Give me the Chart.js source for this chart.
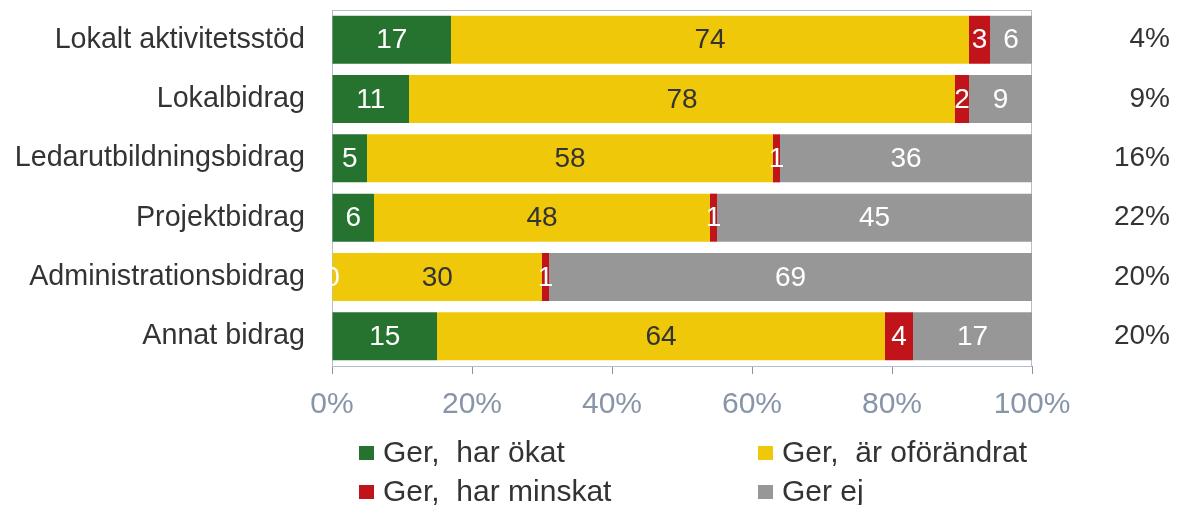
<!DOCTYPE html>
<html>
<head>
<meta charset="utf-8">
<script src="https://cdn.jsdelivr.net/npm/chart.js@4/dist/chart.umd.min.js"></script>
<style>
  html, body { margin: 0; padding: 0; background: #fff; }
  #wrap { width: 1201px; height: 505px; position: relative; }
</style>
</head>
<body>
<div id="wrap"><canvas id="chart" width="1201" height="505"></canvas></div>
<script>
const categories = ['Lokalt aktivitetsstöd', 'Lokalbidrag', 'Ledarutbildningsbidrag', 'Projektbidrag', 'Administrationsbidrag', 'Annat bidrag'];
const okat = [17, 11, 5, 6, 0, 15];
const oforandrat = [74, 78, 58, 48, 30, 64];
const minskat = [3, 2, 1, 1, 1, 4];
const gerEj = [6, 9, 36, 45, 69, 17];
const rightLabels = ['4%', '9%', '16%', '22%', '20%', '20%'];
const xTicks = [0, 20, 40, 60, 80, 100];

const FONT = "'Liberation Sans', Arial, sans-serif";
const AXIS = '#8795a8';

// numbers inside the bars
const barLabels = {
  id: 'barLabels',
  afterDatasetsDraw(chart) {
    const ctx = chart.ctx, a = chart.chartArea;
    ctx.save();
    ctx.beginPath();
    ctx.rect(a.left, a.top, a.right - a.left, a.bottom - a.top);
    ctx.clip();
    ctx.font = '28px ' + FONT;
    ctx.textAlign = 'center';
    ctx.textBaseline = 'middle';
    chart.data.datasets.forEach((ds, i) => {
      chart.getDatasetMeta(i).data.forEach((el, j) => {
        ctx.fillStyle = ds.labelColor;
        ctx.fillText(String(ds.data[j]), (el.x + el.base) / 2, el.y + 1);
      });
    });
    ctx.restore();
  }
};

// frame around the plot area + legend in two columns
const frameLegend = {
  id: 'frameLegend',
  beforeDatasetsDraw(chart) {
    const ctx = chart.ctx, a = chart.chartArea;
    ctx.save();
    ctx.strokeStyle = '#b4bfcd';
    ctx.lineWidth = 1;
    ctx.strokeRect(a.left + 0.5, a.top + 0.5, a.right - a.left - 1, a.bottom - a.top);
    ctx.restore();
  },
  afterDraw(chart) {
    const ctx = chart.ctx;
    const cols = [359, 758], rows = [453, 492];
    ctx.save();
    ctx.font = '30px ' + FONT;
    ctx.textBaseline = 'middle';
    chart.data.datasets.forEach((ds, i) => {
      const x = cols[i % 2], y = rows[Math.floor(i / 2)];
      ctx.fillStyle = ds.backgroundColor;
      ctx.fillRect(x, y - 7, 15, 14);
      ctx.fillStyle = '#333';
      ctx.fillText(ds.label, x + 24, y + 1);
    });
    ctx.restore();
  }
};

const noPad = s => { s.paddingTop = 0; s.paddingBottom = 0; };

new Chart(document.getElementById('chart'), {
  type: 'bar',
  data: {
    labels: categories,
    datasets: [
      { label: 'Ger,  har ökat', data: okat, backgroundColor: '#267330', labelColor: '#fff' },
      { label: 'Ger,  är oförändrat', data: oforandrat, backgroundColor: '#f0c80a', labelColor: '#333' },
      { label: 'Ger,  har minskat', data: minskat, backgroundColor: '#c0141a', labelColor: '#fff' },
      { label: 'Ger ej', data: gerEj, backgroundColor: '#979797', labelColor: '#fff' }
    ]
  },
  options: {
    indexAxis: 'y',
    responsive: false,
    animation: false,
    devicePixelRatio: 1,
    layout: { padding: { top: 10, bottom: 69, left: 0, right: 31 } },
    datasets: { bar: { barPercentage: 0.81, categoryPercentage: 1, borderWidth: 0 } },
    plugins: { legend: { display: false }, tooltip: { enabled: false } },
    scales: {
      x: {
        stacked: true, min: 0, max: 100,
        afterBuildTicks: s => { s.ticks = xTicks.map(v => ({ value: v })); },
        grid: { drawOnChartArea: false, drawTicks: true, tickLength: 8, color: AXIS },
        border: { color: AXIS, width: 1 },
        ticks: { padding: 13, color: AXIS, font: { family: FONT, size: 30 }, callback: v => v + '%' }
      },
      y: {
        stacked: true,
        afterFit: s => { s.width = 332; noPad(s); },
        grid: { display: false, drawTicks: false },
        border: { color: AXIS, width: 1 },
        ticks: { padding: 27, color: '#333', font: { family: FONT, size: 28.7 } }
      },
      y2: {
        type: 'category', position: 'right', labels: rightLabels, offset: true,
        afterFit: s => { s.width = 138; noPad(s); },
        grid: { display: false, drawTicks: false },
        border: { display: false },
        ticks: { padding: 10, crossAlign: 'far', color: '#333', font: { family: FONT, size: 28 } }
      }
    }
  },
  plugins: [barLabels, frameLegend]
});
</script>
</body>
</html>
